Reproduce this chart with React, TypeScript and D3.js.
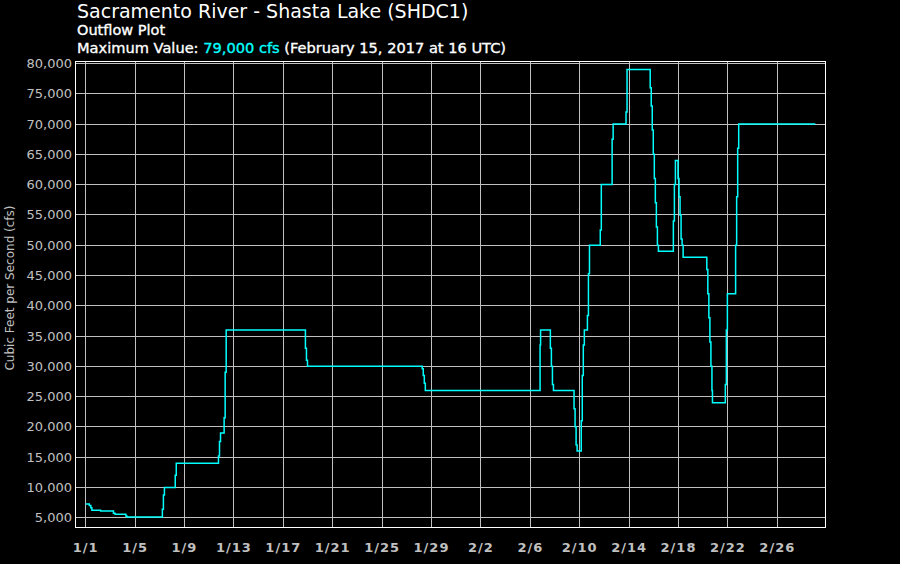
import React from "react";
import * as d3 from "d3";

const W = 900;
const H = 564;

const titleText = "Sacramento River - Shasta Lake (SHDC1)";
const subtitleText = "Outflow Plot";
const maxLabel = "Maximum Value: ";
const maxValueText = "79,000 cfs";
const maxWhenText = " (February 15, 2017 at 16 UTC)";
const yAxisTitle = "Cubic Feet per Second (cfs)";

// Step-series breakpoints (UTC hour, cfs); value holds until the next time
const flowTimes = [
  "2017-01-01T00", "2017-01-01T07", "2017-01-01T10", "2017-01-01T12", "2017-01-02T05",
  "2017-01-03T06", "2017-01-03T09", "2017-01-04T06", "2017-01-04T08", "2017-01-07T05",
  "2017-01-07T07", "2017-01-07T09", "2017-01-08T06", "2017-01-08T08", "2017-01-11T18",
  "2017-01-11T20", "2017-01-11T22", "2017-01-12T05", "2017-01-12T07", "2017-01-12T09",
  "2017-01-18T19", "2017-01-18T21", "2017-01-18T23", "2017-01-28T06", "2017-01-28T08",
  "2017-01-28T10", "2017-01-28T12", "2017-02-06T19", "2017-02-06T20", "2017-02-07T15",
  "2017-02-07T17", "2017-02-07T19", "2017-02-07T21", "2017-02-09T13", "2017-02-09T15",
  "2017-02-09T17", "2017-02-09T19", "2017-02-10T03", "2017-02-10T05", "2017-02-10T07",
  "2017-02-10T09", "2017-02-10T15", "2017-02-10T17", "2017-02-10T19", "2017-02-11T16",
  "2017-02-11T18", "2017-02-12T15", "2017-02-12T17", "2017-02-13T18", "2017-02-13T20",
  "2017-02-15T17", "2017-02-15T19", "2017-02-15T21", "2017-02-15T23", "2017-02-16T01",
  "2017-02-16T03", "2017-02-16T05", "2017-02-16T07", "2017-02-16T09", "2017-02-17T14",
  "2017-02-17T16", "2017-02-17T18", "2017-02-17T23", "2017-02-18T01", "2017-02-18T03",
  "2017-02-18T05", "2017-02-18T07", "2017-02-18T09", "2017-02-20T07", "2017-02-20T09",
  "2017-02-20T11", "2017-02-20T13", "2017-02-20T15", "2017-02-20T17", "2017-02-20T18",
  "2017-02-21T19", "2017-02-21T21", "2017-02-21T23", "2017-02-22T15", "2017-02-22T17",
  "2017-02-22T19", "2017-02-22T21", "2017-03-01T02",
];
const flowValues = [
  7250, 7000, 6650, 6250, 6100,
  5750, 5550, 5300, 5100, 6400,
  8750, 10000, 12000, 14000, 15200,
  17600, 19000, 21500, 29000, 36000,
  33000, 31000, 30000, 29600, 28500,
  27200, 26000, 33500, 36000, 33000,
  30000, 27000, 26000, 23000, 20000,
  17000, 16000, 21000, 28500, 33500,
  36000, 38400, 45300, 50000, 52500,
  60000, 67500, 70000, 72000, 79000,
  76000, 73000, 69000, 65000, 61000,
  57000, 53000, 50000, 49000, 54000,
  60000, 64000, 61000, 58000, 55000,
  51000, 50000, 48000, 46000, 42000,
  38000, 34000, 30000, 26000, 24000,
  27000, 36000, 42000, 50000, 58000,
  66000, 70000, 70000,
];

const yTicks = [5000, 10000, 15000, 20000, 25000, 30000, 35000, 40000, 45000, 50000, 55000, 60000, 65000, 70000, 75000, 80000];
const xTickDates = [
  "2017-01-01", "2017-01-05", "2017-01-09", "2017-01-13", "2017-01-17", "2017-01-21",
  "2017-01-25", "2017-01-29", "2017-02-02", "2017-02-06", "2017-02-10", "2017-02-14",
  "2017-02-18", "2017-02-22", "2017-02-26",
];
const xTickLabels = ["1/1", "1/5", "1/9", "1/13", "1/17", "1/21", "1/25", "1/29", "2/2", "2/6", "2/10", "2/14", "2/18", "2/22", "2/26"];

const parseHour = d3.utcParse("%Y-%m-%dT%H");
const parseDay = d3.utcParse("%Y-%m-%d");

const plot = { left: 75.5, right: 825.5, top: 61.5, bottom: 527.5 };

export default function App() {
  const x = d3
    .scaleUtc()
    .domain([parseDay("2017-01-01")!, parseDay("2017-02-26")!])
    .range([85.7, 777.3]);
  const y = d3.scaleLinear().domain([5000, 80000]).range([517.7, 63.5]);

  const data = flowTimes.map((t, i) => ({ t: parseHour(t)!, v: flowValues[i] }));
  const line = d3
    .line<{ t: Date; v: number }>()
    .x((d) => x(d.t))
    .y((d) => y(d.v))
    .curve(d3.curveStepAfter);

  const fmt = d3.format(",");
  const snap = (v: number) => Math.round(v - 0.5) + 0.5;
  const font = "'DejaVu Sans', Verdana, sans-serif";

  return (
    <svg
      width={W}
      height={H}
      style={{ position: "fixed", left: 0, top: 0, background: "#000" }}
    >
      <rect x={0} y={0} width={W} height={H} fill="#000" />
      <text x={77} y={17.5} fill="#fff" fontFamily={font} fontSize={19}>
        {titleText}
      </text>
      <text x={77} y={35.3} fill="#fff" stroke="#fff" strokeWidth={0.35} fontFamily={font} fontSize={14.5}>
        {subtitleText}
      </text>
      <text x={77} y={52.5} fill="#fff" stroke="#fff" strokeWidth={0.35} fontFamily={font} fontSize={14.6}>
        {maxLabel}
        <tspan fill="#00ffff" stroke="#00ffff">{maxValueText}</tspan>
        {maxWhenText}
      </text>

      <g stroke="#c0c0c0" strokeWidth={1}>
        {yTicks.map((t) => (
          <line key={"gy" + t} x1={plot.left} x2={plot.right} y1={snap(y(t))} y2={snap(y(t))} />
        ))}
        {xTickDates.map((d) => {
          const xx = snap(x(parseDay(d)!));
          return <line key={"gx" + d} x1={xx} x2={xx} y1={plot.top} y2={plot.bottom} />;
        })}
      </g>

      <rect
        x={plot.left}
        y={plot.top}
        width={plot.right - plot.left}
        height={plot.bottom - plot.top}
        fill="none"
        stroke="#fff"
        strokeWidth={1}
      />

      <defs>
        <clipPath id="plotClip">
          <rect x={plot.left} y={plot.top} width={plot.right - plot.left} height={plot.bottom - plot.top} />
        </clipPath>
      </defs>
      <path d={line(data) || ""} fill="none" stroke="#00ffff" strokeWidth={1.5} clipPath="url(#plotClip)" />

      <g fill="#c0c0c0" fontFamily={font} fontSize={13}>
        {yTicks.map((t) => (
          <text key={"ly" + t} x={72} y={y(t) + 4.5} textAnchor="end">
            {fmt(t)}
          </text>
        ))}
      </g>
      <g fill="#c0c0c0" fontFamily={font} fontSize={13} fontWeight="bold" letterSpacing={1}>
        {xTickDates.map((d, i) => (
          <text key={"lx" + d} x={x(parseDay(d)!)} y={552} textAnchor="middle">
            {xTickLabels[i]}
          </text>
        ))}
      </g>
      <text
        transform={`translate(14,288) rotate(-90)`}
        textAnchor="middle"
        fill="#c0c0c0"
        fontFamily={font}
        fontSize={12}
      >
        {yAxisTitle}
      </text>
    </svg>
  );
}
